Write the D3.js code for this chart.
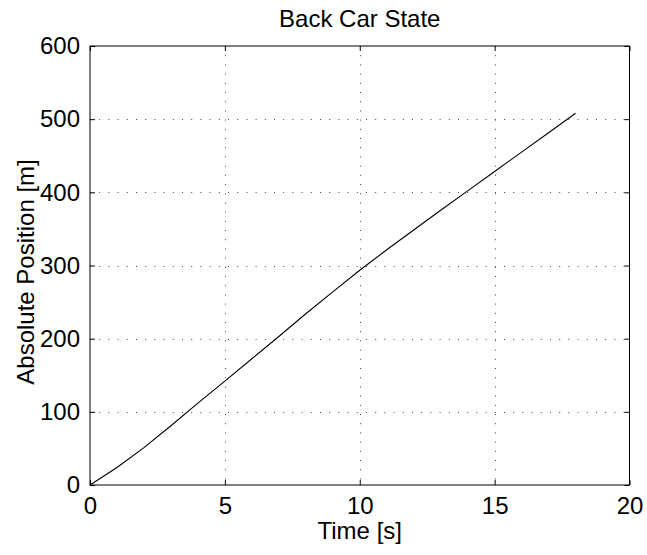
<!DOCTYPE html>
<html>
<head>
<meta charset="utf-8">
<script src="https://cdn.jsdelivr.net/npm/d3@7"></script>
<style>
  html, body { margin: 0; padding: 0; background: #fff; }
  svg text { font-family: "Liberation Sans", Arial, Helvetica, sans-serif; fill: #000; }
</style>
</head>
<body>
<svg id="chart" width="647" height="555"></svg>
<script>
// Back car absolute position over time
const timeS = [0, 1, 2, 3, 4, 5, 6, 7, 8, 9, 10, 11, 12, 13, 14, 15, 16, 17, 18];
const positionM = [0, 24, 51, 81, 112, 142, 172.5, 203, 234, 264, 293.5, 321.5, 348.5, 375.5, 402, 428.5, 455, 481.5, 508];
const xTicks = [0, 5, 10, 15, 20];
const yTicks = [0, 100, 200, 300, 400, 500, 600];

const titleText = "Back Car State";
const xLabel = "Time [s]";
const yLabel = "Absolute Position [m]";

const svg = d3.select("#chart");
const margin = { left: 90, right: 17.5, top: 46, bottom: 70 };
const W = 647, H = 555;
const x = d3.scaleLinear().domain([0, 20]).range([margin.left, W - margin.right]);
const y = d3.scaleLinear().domain([0, 600]).range([H - margin.bottom, margin.top]);

const fontSize = 24;
const tickLen = 5;

// dotted grid
const grid = svg.append("g").attr("stroke", "#444").attr("stroke-width", 1)
  .attr("stroke-dasharray", "1,8.2").attr("fill", "none");
xTicks.slice(1, -1).forEach(t => {
  grid.append("line").attr("x1", Math.round(x(t)) + 0.5).attr("x2", Math.round(x(t)) + 0.5)
    .attr("y1", y(600)).attr("y2", y(0));
});
yTicks.slice(1, -1).forEach(t => {
  grid.append("line").attr("y1", Math.round(y(t)) + 0.5).attr("y2", Math.round(y(t)) + 0.5)
    .attr("x1", x(0)).attr("x2", x(20));
});

// axes with inward ticks
const xAxisB = d3.axisBottom(x).tickValues(xTicks).tickSizeInner(-tickLen).tickSizeOuter(0).tickPadding(12);
const yAxisL = d3.axisLeft(y).tickValues(yTicks).tickSizeInner(-tickLen).tickSizeOuter(0).tickPadding(10);
const xAxisT = d3.axisTop(x).tickValues(xTicks).tickSizeInner(-tickLen).tickSizeOuter(0).tickFormat("");
const yAxisR = d3.axisRight(y).tickValues(yTicks).tickSizeInner(-tickLen).tickSizeOuter(0).tickFormat("");

function styleAxis(g) {
  g.select(".domain").remove();
  g.selectAll(".tick line").attr("stroke", "#000");
  g.selectAll(".tick text").style("font-size", fontSize + "px")
    .style("font-family", '"Liberation Sans", Arial, sans-serif').attr("fill", "#000");
}
svg.append("g").attr("transform", `translate(0,${y(0)})`).call(xAxisB).call(styleAxis);
svg.append("g").attr("transform", `translate(${x(0)},0)`).call(yAxisL).call(styleAxis);
svg.append("g").attr("transform", `translate(0,${y(600)})`).call(xAxisT).call(styleAxis);
svg.append("g").attr("transform", `translate(${x(20)},0)`).call(yAxisR).call(styleAxis);

// frame
svg.append("rect").attr("x", x(0)).attr("y", y(600))
  .attr("width", x(20) - x(0)).attr("height", y(0) - y(600))
  .attr("fill", "none").attr("stroke", "#000").attr("stroke-width", 1);

// position curve
const line = d3.line().x((d, i) => x(timeS[i])).y(d => y(d));
svg.append("path").datum(positionM).attr("d", line)
  .attr("fill", "none").attr("stroke", "#000").attr("stroke-width", 1.1);

// labels
svg.append("text").attr("x", (x(0) + x(20)) / 2).attr("y", 27)
  .attr("text-anchor", "middle").style("font-size", "24px").text(titleText);
svg.append("text").attr("x", (x(0) + x(20)) / 2).attr("y", 539)
  .attr("text-anchor", "middle").style("font-size", fontSize + "px").text(xLabel);
svg.append("text").attr("transform", `translate(34,272) rotate(-90)`)
  .attr("text-anchor", "middle").style("font-size", fontSize + "px").text(yLabel);
</script>
</body>
</html>
